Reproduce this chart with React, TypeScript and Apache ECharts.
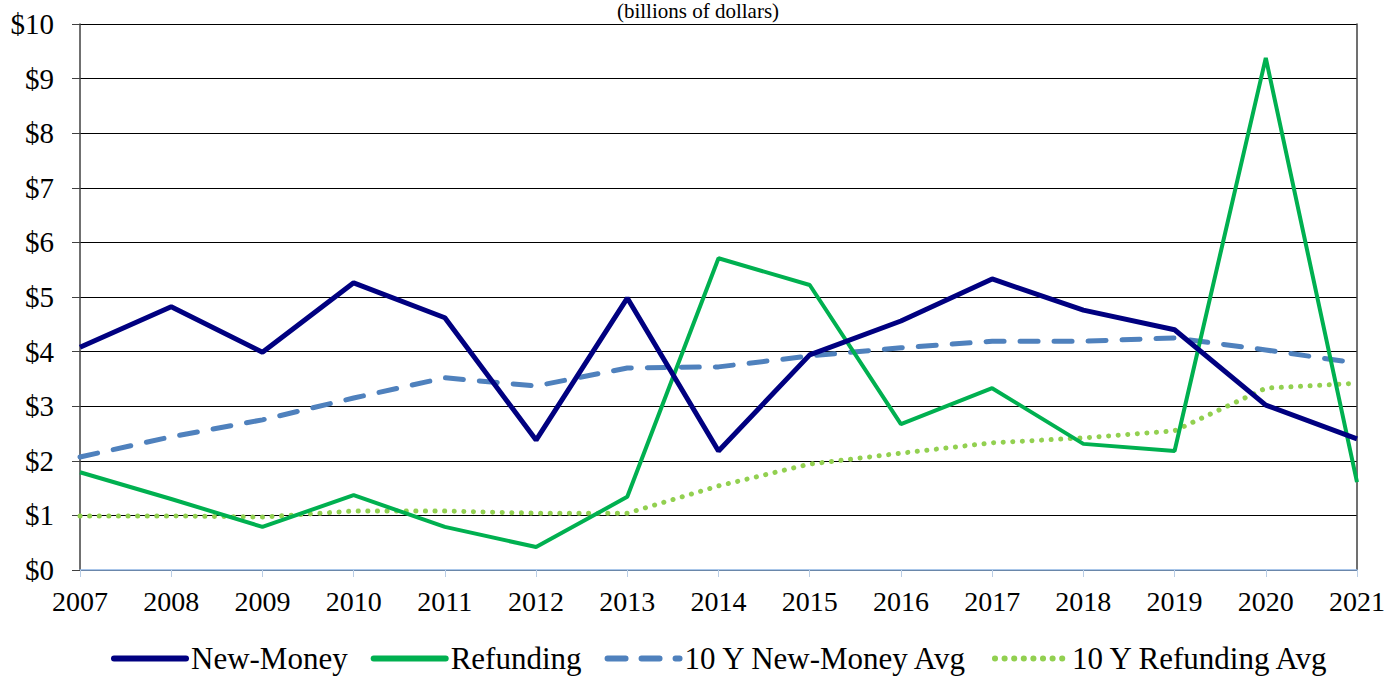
import React, { useEffect, useRef } from "react";
import * as echarts from "echarts";

const years = ["2007","2008","2009","2010","2011","2012","2013","2014","2015","2016","2017","2018","2019","2020","2021"];
const newMoney = [4.08, 4.82, 3.99, 5.26, 4.62, 2.38, 4.98, 2.18, 3.94, 4.56, 5.33, 4.76, 4.40, 3.02, 2.40];
const refunding = [1.79, 1.30, 0.79, 1.37, 0.79, 0.42, 1.34, 5.71, 5.22, 2.67, 3.33, 2.31, 2.18, 9.38, 1.61];
const newMoneyAvg = [2.07, 2.44, 2.75, 3.15, 3.52, 3.37, 3.70, 3.72, 3.92, 4.07, 4.19, 4.19, 4.25, 4.03, 3.79];
const refundingAvg = [0.99, 0.99, 0.97, 1.08, 1.08, 1.04, 1.04, 1.54, 1.94, 2.14, 2.33, 2.42, 2.55, 3.33, 3.42];

const FONT = "'Liberation Serif', 'Times New Roman', serif";

export default function App() {
  const ref = useRef<HTMLDivElement>(null);
  useEffect(() => {
    if (!ref.current) return;
    const chart = echarts.init(ref.current, null, { renderer: "svg" });
    chart.setOption({
      animation: false,
      backgroundColor: "#ffffff",
      textStyle: { fontFamily: FONT },
      title: {
        text: "(billions of dollars)",
        left: "center",
        top: -5,
        textStyle: { fontFamily: FONT, fontSize: 21, fontWeight: "normal", color: "#000" },
      },
      grid: { left: 80, right: 39, top: 24, bottom: 107 },
      legend: {
        top: 638,
        left: 106,
        itemWidth: 72,
        itemHeight: 14,
        itemGap: 23,
        itemStyle: { opacity: 0 },
        lineStyle: { width: 6, cap: "round" },
        textStyle: { fontFamily: FONT, fontSize: 31, color: "#000" },
        data: ["New-Money", "Refunding", "10 Y New-Money Avg", "10 Y Refunding Avg"],
      },
      xAxis: {
        type: "category",
        data: years,
        boundaryGap: false,
        axisLine: { show: true, lineStyle: { color: "#8EB4E3", width: 1.5 } },
        axisTick: { show: true, length: 7, lineStyle: { color: "#B9CDE5" } },
        axisLabel: { fontFamily: FONT, fontSize: 28, color: "#000", margin: 17 },
      },
      yAxis: [
        {
          type: "value",
          min: 0,
          max: 10,
          interval: 1,
          axisLine: { show: true, lineStyle: { color: "#404040", width: 1.5 } },
          axisTick: { show: true, length: 8, lineStyle: { color: "#404040" } },
          splitLine: { show: true, lineStyle: { color: "#000", width: 1 } },
          axisLabel: {
            fontFamily: FONT,
            fontSize: 29,
            color: "#000",
            margin: 26,
            formatter: (v: number) => "$" + v,
          },
        },
        {
          type: "value",
          min: 0,
          max: 10,
          interval: 1,
          position: "right",
          axisLine: { show: true, lineStyle: { color: "#404040", width: 1.5 } },
          axisTick: { show: false },
          splitLine: { show: false },
          axisLabel: { show: false },
        },
      ],
      series: [
        {
          name: "New-Money",
          type: "line",
          data: newMoney,
          symbol: "none",
          z: 4,
          itemStyle: { color: "#000080" },
          lineStyle: { color: "#000080", width: 5 },
        },
        {
          name: "Refunding",
          type: "line",
          data: refunding,
          symbol: "none",
          z: 3,
          itemStyle: { color: "#00B050" },
          lineStyle: { color: "#00B050", width: 4 },
        },
        {
          name: "10 Y New-Money Avg",
          type: "line",
          data: newMoneyAvg,
          symbol: "none",
          z: 2,
          itemStyle: { color: "#4F81BD" },
          lineStyle: { color: "#4F81BD", width: 5, type: [18, 16], cap: "round" },
        },
        {
          name: "10 Y Refunding Avg",
          type: "line",
          data: refundingAvg,
          symbol: "none",
          z: 1,
          itemStyle: { color: "#92D050" },
          lineStyle: { color: "#92D050", width: 5, type: [0.1, 9.5], cap: "round" },
        },
      ],
    });
    return () => chart.dispose();
  }, []);
  return (
    <div
      ref={ref}
      style={{ position: "fixed", left: 0, top: 0, width: 1396, height: 677 }}
    />
  );
}
